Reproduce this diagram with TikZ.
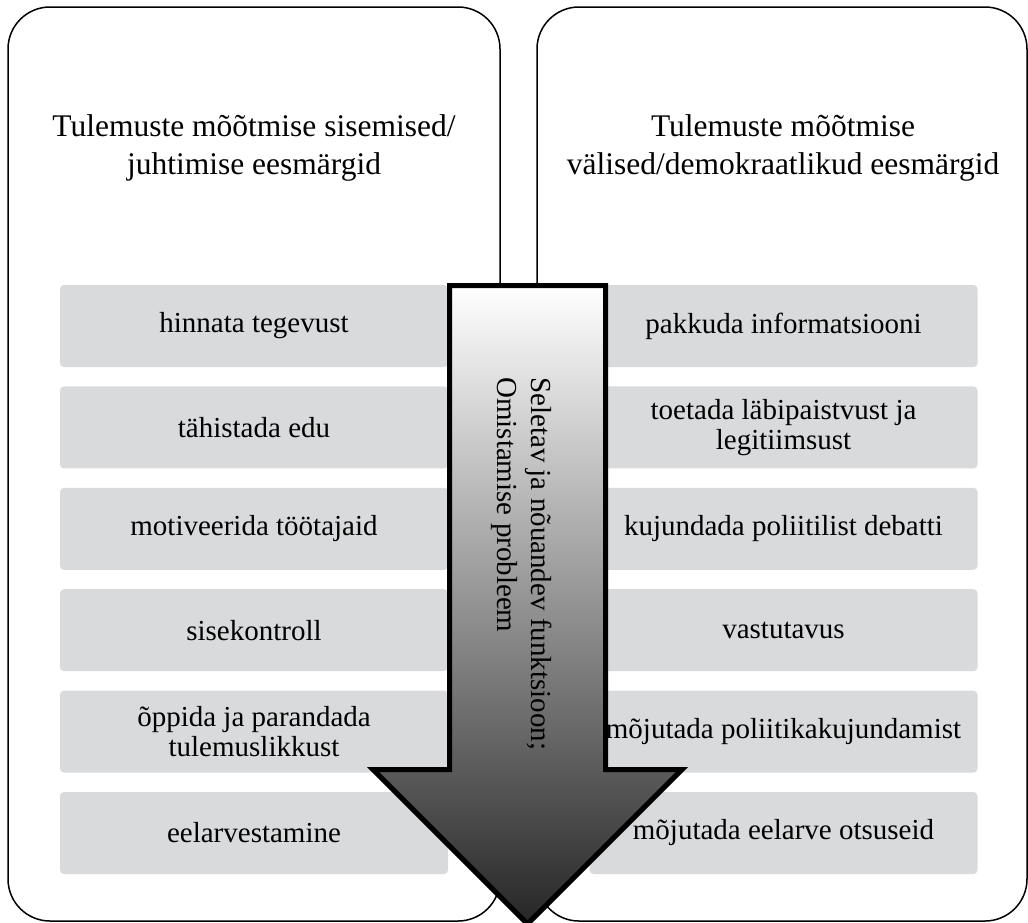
\documentclass[tikz,border=0pt]{standalone}
\usepackage{fontspec}
\setmainfont{Liberation Serif}
\definecolor{boxgray}{RGB}{217,218,220}
\definecolor{arrowmid}{RGB}{172,172,174}
\definecolor{arrowdark}{RGB}{38,38,38}
\tikzset{
  outerbox/.style={draw=black, line width=1.5pt, rounded corners=42pt, minimum width=492pt, minimum height=914pt, inner sep=0pt},
  titletext/.style={align=center, font=\fontsize{31.5}{38}\selectfont, inner sep=0pt},
  itembox/.style={fill=boxgray, rounded corners=4pt, minimum width=388pt, minimum height=82pt, align=center, font=\fontsize{29}{30}\selectfont, inner sep=0pt},
  bigarrow/.style={draw=black, line width=5pt, line join=miter, top color=white, middle color=arrowmid, bottom color=arrowdark},
  arrowtext/.style={rotate=-90, anchor=north west, align=left, inner sep=0pt, font=\fontsize{29}{34}\selectfont},
}
\begin{document}
\begin{tikzpicture}[x=1pt,y=-1pt]
\useasboundingbox (0,0) rectangle (1028,922);
% outer panels
\node[outerbox] (L) at (254,464) {};
\node[outerbox, minimum width=490pt] (R) at (782,464) {};
% titles
\node[titletext] (LT) at (254,148) {Tulemuste mõõtmise sisemised/\\juhtimise eesmärgid};
\node[titletext] (RT) at (783,148) {Tulemuste mõõtmise\\välised/demokraatlikud eesmärgid};
% left items
\node[itembox] (L1) at (254,326)   {hinnata tegevust};
\node[itembox] (L2) at (254,427.4) {tähistada edu};
\node[itembox] (L3) at (254,528.8) {motiveerida töötajaid};
\node[itembox] (L4) at (254,630.2) {sisekontroll};
\node[itembox] (L5) at (254,731.6) {õppida ja parandada\\tulemuslikkust};
\node[itembox] (L6) at (254,833)   {eelarvestamine};
% right items
\node[itembox] (R1) at (783.5,326)   {pakkuda informatsiooni};
\node[itembox] (R2) at (783.5,427.4) {toetada läbipaistvust ja\\legitiimsust};
\node[itembox] (R3) at (783.5,528.8) {kujundada poliitilist debatti};
\node[itembox] (R4) at (783.5,630.2) {vastutavus};
\node[itembox] (R5) at (783.5,731.6) {mõjutada poliitikakujundamist};
\node[itembox] (R6) at (783.5,833)   {mõjutada eelarve otsuseid};
% big arrow
\path[bigarrow] (449.5,285.5) -- (605.5,285.5) -- (605.5,769.5) -- (682,769.5)
  -- (527.5,924) -- (373,769.5) -- (449.5,769.5) -- cycle;
\node[arrowtext] (AT) at (552,377) {Seletav ja nõuandev funktsioon;\\Omistamise probleem};
\end{tikzpicture}
\end{document}
